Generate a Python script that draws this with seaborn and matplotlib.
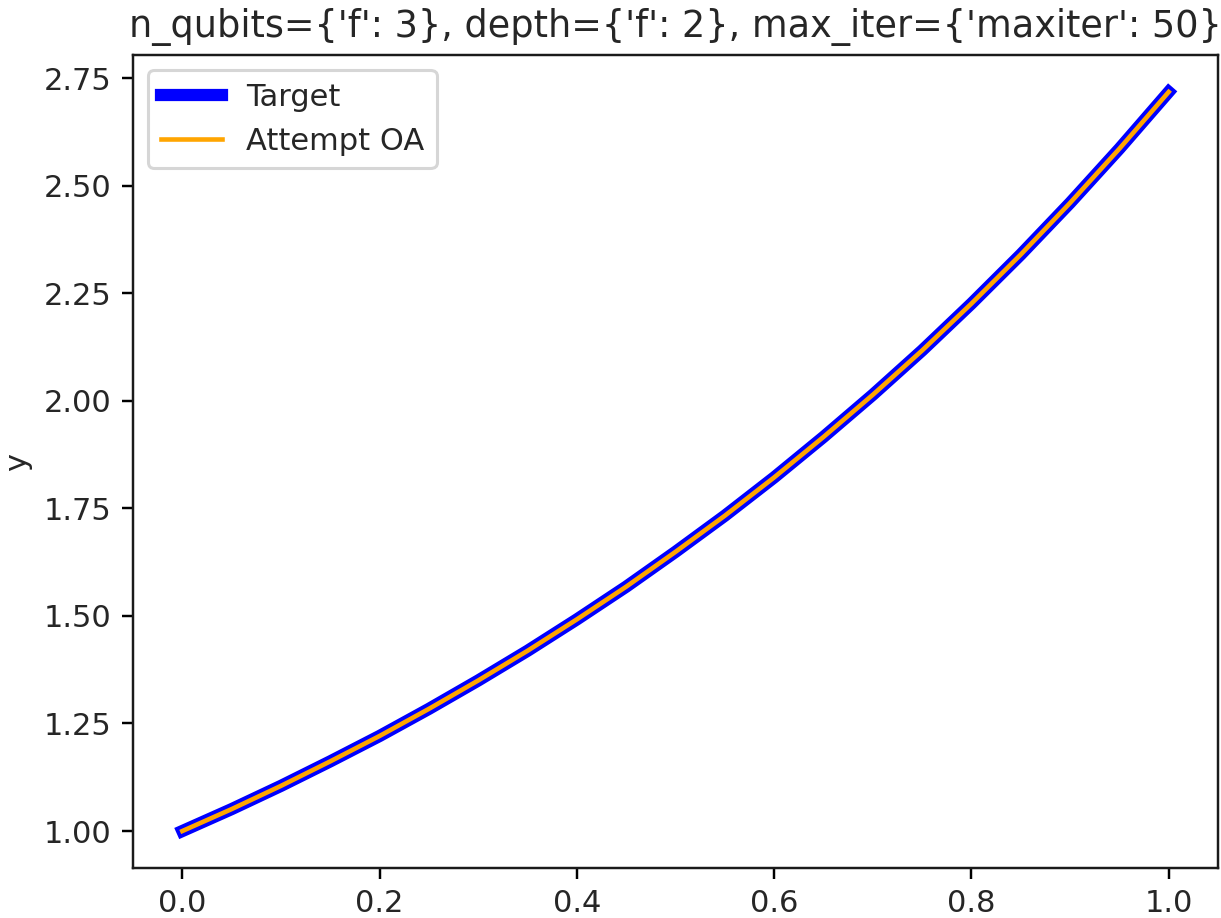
import matplotlib
matplotlib.use("Agg")
import matplotlib.pyplot as plt
import seaborn as sns
import pandas as pd

# values
x_vals = [0.00, 0.05, 0.10, 0.15, 0.20, 0.25, 0.30, 0.35, 0.40, 0.45, 0.50,
          0.55, 0.60, 0.65, 0.70, 0.75, 0.80, 0.85, 0.90, 0.95, 1.00]
target_vals = [1.000, 1.051, 1.105, 1.162, 1.221, 1.284, 1.350, 1.419, 1.492, 1.568, 1.649,
               1.733, 1.822, 1.916, 2.014, 2.117, 2.226, 2.340, 2.460, 2.586, 2.718]
attempt_vals = [1.000, 1.051, 1.105, 1.162, 1.221, 1.284, 1.350, 1.419, 1.492, 1.568, 1.649,
                1.733, 1.822, 1.916, 2.014, 2.117, 2.226, 2.340, 2.460, 2.586, 2.718]
series_labels = ["Target", "Attempt OA"]
title_text = "n_qubits={'f': 3}, depth={'f': 2}, max_iter={'maxiter': 50}"

df = pd.DataFrame({"x": x_vals, "target": target_vals, "attempt": attempt_vals})

plt.rcParams["text.color"] = "#262626"
plt.rcParams["axes.labelcolor"] = "#262626"
plt.rcParams["xtick.labelcolor"] = "#262626"
plt.rcParams["ytick.labelcolor"] = "#262626"
plt.rcParams["axes.edgecolor"] = "#1a1a1a"

dpi = 220
fig = plt.figure(figsize=(1221 / dpi, 918 / dpi), dpi=dpi)
ax = fig.add_axes([133 / 1221, 50 / 918, (1218 - 133) / 1221, (868 - 55) / 918])

sns.lineplot(data=df, x="x", y="target", ax=ax, color="blue", linewidth=4,
             label=series_labels[0])
sns.lineplot(data=df, x="x", y="attempt", ax=ax, color="orange", linewidth=1.5,
             label=series_labels[1])

ax.set_xlabel("")
ax.set_ylabel("y")
ax.set_title(title_text)
ax.legend(loc="upper left")

fig.savefig("out.png", dpi=dpi)
